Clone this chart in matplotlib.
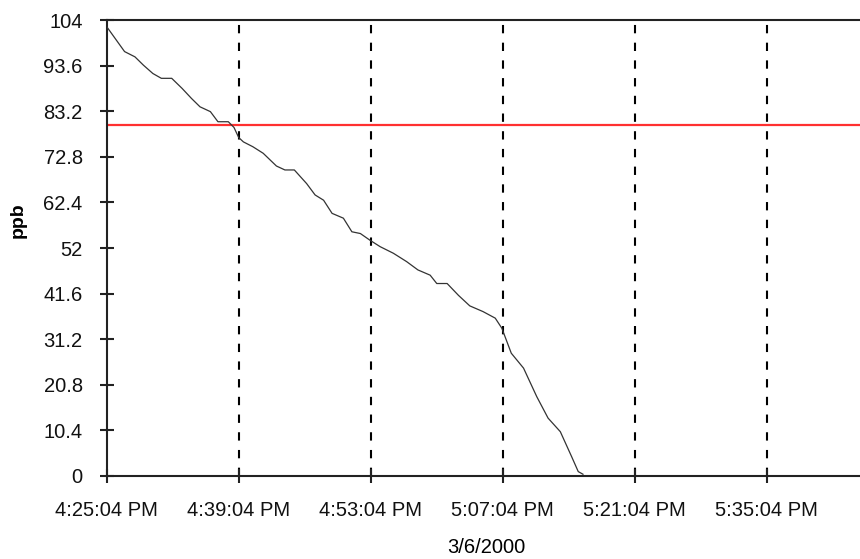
import matplotlib
matplotlib.use('Agg')
import matplotlib.pyplot as plt

# minutes after 4:25:04 PM, ozone in ppb
minutes = [0, 0.9, 1.9, 3.0, 3.9, 4.9, 5.8, 6.9, 8.0, 9.0, 9.9, 11.0, 11.8, 12.9,
           13.5, 14.0, 14.5, 15.5, 16.6, 18.0, 18.9, 19.9, 21.2, 22.1, 23.0, 23.9,
           25.1, 26.0, 26.9, 27.9, 29.0, 30.4, 31.8, 33.0, 34.3, 35.0, 36.1, 37.3,
           38.5, 39.9, 41.2, 41.9, 42.9, 44.2, 45.6, 46.8, 48.1, 49.3, 50.0, 50.5]
ppb = [102.5, 99.8, 96.8, 95.6, 93.7, 91.8, 90.7, 90.7, 88.4, 86.1, 84.2, 83.1, 80.8, 80.8,
       79.5, 77.2, 76.2, 75.1, 73.6, 70.7, 69.8, 69.8, 66.7, 64.1, 62.9, 59.9,
       58.8, 55.7, 55.3, 53.8, 52.3, 50.8, 48.9, 47.0, 45.8, 43.9, 43.9, 41.2,
       38.8, 37.5, 36.0, 33.7, 28.0, 24.6, 18.1, 13.2, 10.1, 4.4, 1.0, 0.4]

limit_ppb = 80
x_ticks = [0, 14, 28, 42, 56, 70]
x_labels = ['4:25:04 PM', '4:39:04 PM', '4:53:04 PM', '5:07:04 PM', '5:21:04 PM', '5:35:04 PM']
y_ticks = [0, 10.4, 20.8, 31.2, 41.6, 52, 62.4, 72.8, 83.2, 93.6, 104]
y_labels = ['0', '10.4', '20.8', '31.2', '41.6', '52', '62.4', '72.8', '83.2', '93.6', '104']

plt.rcParams['font.family'] = ['Liberation Sans', 'DejaVu Sans']

fig = plt.figure(figsize=(8.6, 5.59), dpi=100)
ax = fig.add_axes([0.124, 0.1485, 0.884, 0.8157])

for xt in x_ticks[1:]:
    ax.axvline(xt, color='black', lw=1.5, linestyle=(0, (4, 4.5)), zorder=1)
ax.axhline(limit_ppb, color='#ff3030', lw=1.6, zorder=2)
ax.plot(minutes, ppb, color='#333333', lw=0.9, zorder=3)

ax.set_xlim(0, 80.6)
ax.set_ylim(0, 104)
ax.set_xticks(x_ticks)
ax.set_xticklabels(x_labels)
ax.set_yticks(y_ticks)
ax.set_yticklabels(y_labels)

for s in ['left', 'bottom', 'top']:
    ax.spines[s].set_linewidth(1.5)
    ax.spines[s].set_color('#222222')
ax.spines['right'].set_visible(False)
ax.tick_params(direction='inout', length=10.5, width=1.5, color='#222222',
               labelsize=14.5, labelcolor='#111111')
ax.tick_params(axis='y', pad=12)
ax.tick_params(axis='x', pad=13)

ax.set_ylabel('ppb', fontsize=14, fontweight='bold')
ax.yaxis.set_label_coords(-0.105, 0.56)
ax.set_xlabel('3/6/2000', fontsize=14.5)
ax.xaxis.set_label_coords(0.5, -0.135)

fig.savefig('out.png', dpi=100)
